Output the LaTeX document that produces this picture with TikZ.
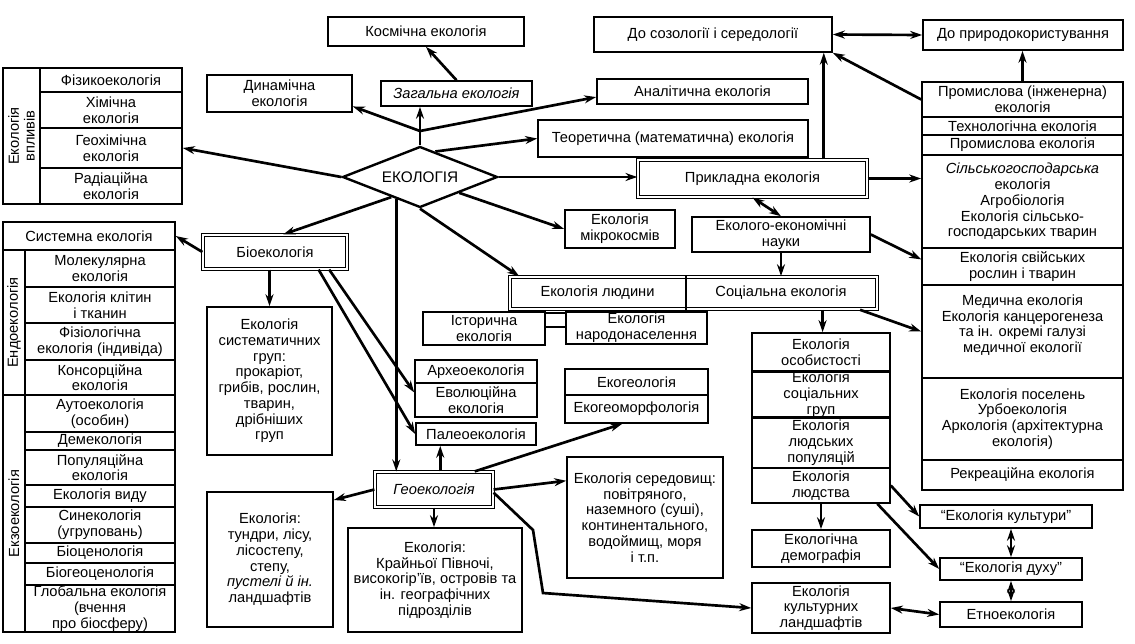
\documentclass[tikz,border=0pt]{standalone}
\usepackage{fontspec}
\setmainfont{Liberation Sans}
\usetikzlibrary{shapes.geometric,arrows.meta}

\begin{document}
\begin{tikzpicture}[x=0.75pt,y=0.75pt,yscale=-1,xscale=1,
  box/.style={draw,line width=1.2pt,inner sep=0.5pt,align=center,font=\fontsize{11}{11.8}\selectfont},
  dbox/.style={box,double,double distance=1.6pt,line width=0.9pt},
  sz/.style 2 args={minimum width=#1*0.75pt,minimum height=#2*0.75pt},
  arr/.style={line width=2pt,-{Stealth[length=9pt,width=6pt]}},
  darr/.style={line width=2pt,{Stealth[length=9pt,width=6pt]}-{Stealth[length=9pt,width=6pt]}}]
\useasboundingbox (0,0) rectangle (1135,643);

%Shape: Diamond
\node[draw,diamond,aspect=2.5,line width=1.8pt,inner sep=0pt,sz={155}{61},font=\fontsize{11.5}{12}\selectfont] (ekol) at (420,177) {ЕКОЛОГІЯ};

% top row
\node[box,sz={196}{29}] (kosm) at (426,31.5) {Космічна екологія};
\node[box,sz={151}{25}] (zah) at (456.5,93.5) {\textit{Загальна екологія}};
\node[box,sz={145}{37}] (dyn) at (279.5,93.5) {Динамічна\\екологія};
\node[box,sz={238}{35}] (sozo) at (713,34.5) {До созології і середології};
\node[box,sz={200}{30}] (pryr) at (1023,35) {До природокористування};
\node[box,sz={211}{25}] (anal) at (702.5,91.5) {Аналітична екологія};
\node[box,sz={270}{37}] (teor) at (673,138.5) {Теоретична (математична) екологія};

% left: influences
\node[box,rotate=90,sz={136}{37}] (vplyv) at (21.5,136) {Екологія\\впливів};
\node[box,sz={142}{24}] (fizyk) at (111,80) {Фізикоекологія};
\node[box,sz={142}{36}] (khim) at (111,110) {Хімічна\\екологія};
\node[box,sz={142}{40}] (geokh) at (111,148) {Геохімічна\\екологія};
\node[box,sz={142}{36}] (rad) at (111,186) {Радіаційна\\екологія};

% left: endo- and exoecology
\node[box,sz={172}{28}] (syst) at (89,236) {Системна екологія};
\node[box,rotate=90,sz={145}{22}] (endo) at (14,322.5) {Ендоекологія};
\node[box,sz={150}{37}] (mol) at (100,268.5) {Молекулярна\\екологія};
\node[box,sz={150}{36}] (klit) at (100,305) {Екологія клітин\\і тканин};
\node[box,sz={150}{37}] (fiziol) at (100,341.5) {Фізіологічна\\екологія (індивіда)};
\node[box,sz={150}{35}] (kons) at (100,377.5) {Консорційна\\екологія};
\node[box,rotate=90,sz={237}{22}] (ekzo) at (14,513.5) {Екзоекологія};
\node[box,sz={150}{37}] (auto) at (100,413.5) {Аутоекологія\\(особин)};
\node[box,sz={150}{18}] (deme) at (100,441) {Демекологія};
\node[box,sz={150}{35}] (popul) at (100,467.5) {Популяційна\\екологія};
\node[box,sz={150}{22}] (vydu) at (100,496) {Екологія виду};
\node[box,sz={150}{36}] (syne) at (100,525) {Синекологія\\(угруповань)};
\node[box,sz={150}{20}] (bioc) at (100,553) {Біоценологія};
\node[box,sz={150}{22}] (biogeo) at (100,574) {Біогеоценологія};
\node[box,sz={150}{47}] (glob) at (100,608.5) {Глобальна екологія\\(вчення\\про біосферу)};

% bioecology
\node[dbox,sz={144}{34}] (bio) at (275,252) {Біоекологія};
\node[box,sz={125}{148}] (sist) at (269.5,381) {Екологія\\систематичних\\груп:\\прокаріот,\\грибів, рослин,\\тварин,\\дрібніших\\груп};

% geoecology
\node[dbox,sz={118}{35}] (geo) at (434,489.5) {\textit{Геоекологія}};
\node[box,sz={126}{135}] (tund) at (270,559.5) {Екологія:\\тундри, лісу,\\лісостепу,\\степу,\\\textit{пустелі й ін.}\\ландшафтів};
\node[box,sz={174}{104}] (pivn) at (435,580) {Екологія:\\Крайньої Півночі,\\високогір’їв, островів та\\ін. географічних\\підрозділів};
\node[box,sz={156}{121}] (sered) at (645,517.5) {Екологія середовищ:\\повітряного,\\наземного (суші),\\континентального,\\водоймищ, моря\\і т.п.};
\node[box,sz={122}{23}] (arch) at (476,371.5) {Археоекологія};
\node[box,sz={122}{34}] (evol) at (476,400) {Еволюційна\\екологія};
\node[box,sz={120}{22}] (paleo) at (476,434) {Палеоекологія};
\node[box,sz={143}{26}] (egeol) at (636.5,382) {Екогеологія};
\node[box,sz={143}{28}] (egeom) at (636.5,409) {Екогеоморфологія};

% human and social ecology
\node[dbox,sz={367}{32}] (ls) at (693.5,293) {};
\node[box,draw=none,sz={175}{32}] (lyud) at (597.5,293) {Екологія людини};
\node[box,draw=none,sz={192}{32}] (soc) at (781,293) {Соціальна екологія};
\draw[line width=1.2pt] (lyud.north east) -- (lyud.south east);
\node[box,sz={122}{33}] (ist) at (484,328.5) {Історична\\екологія};
\node[box,sz={21}{14}] (lnk) at (555.5,320) {};
\node[box,sz={141}{32}] (nar) at (636.5,328) {Екологія\\народонаселення};
\node[box,sz={110}{38}] (mikro) at (620,229) {Екологія\\мікрокосмів};
\node[box,sz={178}{35}] (ekon) at (781,234.5) {Еколого-економічні\\науки};
\node[dbox,sz={229}{37}] (prykl) at (752.5,178.5) {Прикладна екологія};

\node[box,sz={138}{39}] (osob) at (821,352.5) {Екологія\\особистості};
\node[box,sz={138}{45}] (sgrup) at (821,394.5) {Екологія\\соціальних\\груп};
\node[box,sz={138}{51}] (popl) at (821,442.5) {Екологія\\людських\\популяцій};
\node[box,sz={138}{35}] (lyudstvo) at (821,485.5) {Екологія\\людства};
\node[box,sz={138}{37}] (demogr) at (821,548.5) {Екологічна\\демографія};
\node[box,sz={138}{50}] (kland) at (821,608) {Екологія\\культурних\\ландшафтів};
\node[box,sz={172}{23}] (kult) at (1006,516.5) {“Екологія культури”};
\node[box,sz={142}{22}] (dukh) at (1011,569) {“Екологія духу”};
\node[box,sz={142}{25}] (etno) at (1011,614.5) {Етноекологія};

% right: applied branches
\node[box,sz={201}{35}] (prom1) at (1022.5,99.5) {Промислова (інженерна)\\екологія};
\node[box,sz={201}{18}] (tekhn) at (1022.5,126) {Технологічна екологія};
\node[box,sz={201}{20}] (prom2) at (1022.5,145) {Промислова екологія};
\node[box,sz={201}{93}] (silsk) at (1022.5,201.5) {\textit{Сільськогосподарська}\\екологія\\Агробіологія\\Екологія сільсько-\\господарських тварин};
\node[box,sz={201}{37}] (svii) at (1022.5,266.5) {Екологія свійських\\рослин і тварин};
\node[box,sz={201}{93}] (med) at (1022.5,331.5) {Медична екологія\\Екологія канцерогенеза\\та ін. окремі галузі\\медичної екології\\\mbox{}};
\node[box,sz={201}{82}] (pos) at (1022.5,419) {Екологія поселень\\Урбоекологія\\Аркологія (архітектурна\\екологія)};
\node[box,sz={201}{30}] (rekr) at (1022.5,475) {Рекреаційна екологія};

%Straight Lines
\coordinate (jz) at (420,131);
\draw[arr] (ekol.north) -- (ekol.north |- zah.south);
\draw[arr] (jz) -- (dyn.-10);
\draw[arr] (jz) -- (anal.183);
\draw[arr] (zah.north) -- (kosm.south);
\draw[arr] (ekol.59) -- (teor.west);
\draw[arr] (ekol.east) -- (ekol.east -| prykl.west);
\draw[arr] (ekol.west) -- (geokh.east);
\draw[arr] (ekol.215) -- (bio.65);
\draw[arr] (ekol.223) -- (ekol.223 |- geo.north);
\draw[arr] (ekol.south) -- ([xshift=7.5pt]lyud.north west);
\draw[arr] (ekol.-22) -- (mikro.west);

\draw[arr] (bio.west) -- (syst.east);
\draw[arr] (bio.south -| sist.north) -- (sist.north);
\draw[arr] (bio.-18) -- (evol.173);
\draw[arr] (bio.-22) -- (paleo.west);

\draw[arr] (geo.71) -- (geo.71 |- paleo.south);
\draw[arr] (geo.24) -- (egeom.-134);
\draw[arr] (geo.east) -- (sered.155);
\draw[arr] (geo.west) -- (tund.43);
\draw[arr] (geo.south) -- (geo.south |- pivn.north);
\coordinate (g1) at (533,530);
\coordinate (g2) at (543,593);
\draw[arr] (geo.-3) -- (g1) -- (g2) -- (kland.west);

\draw[arr] (prykl.15) -- (prykl.15 |- sozo.south);
\draw[arr] (prykl.east) -- (prykl.east -| silsk.west);
\draw[darr] (prykl.south) -- (ekon.north);
\draw[arr] (ekon.south) -- (ekon.south |- soc.north);
\draw[arr] (ekon.east) -- (svii.176);
\draw[arr] (soc.-12.5) -- (med.west);
\draw[arr] (soc.-22) -- (soc.-22 |- osob.north);
\draw[arr] (prom1.west) -- (sozo.south east);
\draw[darr] (sozo.east) -- (pryr.west);
\draw[arr] (prom1.north) -- (prom1.north |- pryr.south);

\draw[arr] (lyudstvo.east) -- (kult.west);
\draw[arr] (lyudstvo.-18) -- (dukh.west);
\draw[arr] (lyudstvo.south) -- (demogr.north);
\draw[darr] (kult.south -| dukh.north) -- (dukh.north);
\draw[darr] (dukh.south) -- (etno.north);
\draw[darr] (kland.east) -- (etno.west);

\end{tikzpicture}
\end{document}
